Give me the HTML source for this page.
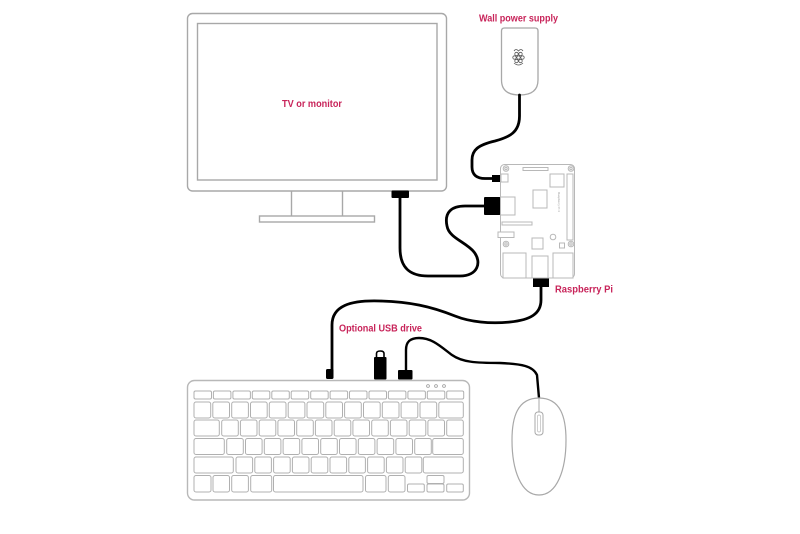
<!DOCTYPE html>
<html><head><meta charset="utf-8"><style>
html,body{margin:0;padding:0;background:#fff;}
svg{display:block;}
text{font-family:"Liberation Sans",sans-serif;font-weight:bold;fill:#c8245a;}
</style></head><body>
<svg width="800" height="534" viewBox="0 0 800 534" xmlns="http://www.w3.org/2000/svg">
<rect width="800" height="534" fill="#fff"/>

<!-- Monitor -->
<g fill="none" stroke="#a8a8a8" stroke-width="1.4">
<rect x="187.5" y="13.5" width="259" height="177.5" rx="5"/>
<rect x="197.5" y="23.5" width="239.5" height="156.5"/>
<path d="M291.5,191 V216 M342.5,191 V216"/>
<rect x="259.5" y="216" width="115" height="6"/>
</g>
<text x="312" y="107" font-size="10" text-anchor="middle" textLength="60" lengthAdjust="spacingAndGlyphs">TV or monitor</text>

<!-- Power supply -->
<path d="M501.5,31 Q501.5,28 504.5,28 H535 Q538,28 538,31 V80 Q538,95 519.7,95 Q501.5,95 501.5,80 Z" fill="#fff" stroke="#a8a8a8" stroke-width="1.3"/>
<g fill="none" stroke="#555" stroke-width="0.8">
<circle cx="516.5" cy="54" r="1.7"/><circle cx="520.5" cy="54" r="1.7"/>
<circle cx="514.5" cy="57.5" r="1.7"/><circle cx="518.5" cy="57.5" r="1.7"/><circle cx="522.5" cy="57.5" r="1.7"/>
<circle cx="516.5" cy="61" r="1.7"/><circle cx="520.5" cy="61" r="1.7"/>
<path d="M514,51 Q516,48 518.5,51 Q521,48 523,51"/>
<path d="M514,63 Q518.5,67 523,63"/>
</g>
<text x="518.5" y="21.5" font-size="10" text-anchor="middle" textLength="79" lengthAdjust="spacingAndGlyphs">Wall power supply</text>

<!-- Cables -->
<g fill="none" stroke="#000" stroke-width="2.8" stroke-linecap="round" stroke-linejoin="round">
<path d="M519.5,95 V116 C519.5,132 510,137 495,141 C478,145 472,150 472,160 V167 C472,175 477,178.5 485,178.5 H494"/>
<path d="M400,198 V248 C400,268 410,276 428,276 H460 C478,276 482,262 474,252 C466,242 449,238 447,226 C444,212 452,206 465,206 H486"/>
<path d="M541,287 V300 C541,314 530,320 510,322 C490,324 470,322 455,316 C430,306 410,302 380,301 C350,300 332,306 332,325 V370"/>
<path d="M406,370 V350 C406,341 411,338 419,338 C432,338 440,346 452,355 C462,362 475,363 500,363 C522,364 533,366 537,375 L539,398" stroke-width="2.4"/>
</g>
<!-- connectors -->
<g fill="#000">
<rect x="391.5" y="190.5" width="17.5" height="7.5" rx="1"/>
<rect x="492" y="175" width="9" height="7"/>
<rect x="484" y="197" width="16.5" height="18" rx="1"/>
<rect x="533" y="278" width="16" height="9"/>
<rect x="326" y="369" width="7.5" height="10" rx="1.5"/>
<rect x="398" y="370" width="14.5" height="9.5" rx="1"/>
<rect x="374" y="357" width="12.5" height="22.5" rx="1"/>
</g>
<path d="M376.5,358 V353.5 Q376.5,351 380.2,351 Q384,351 384,353.5 V358" fill="none" stroke="#000" stroke-width="1.6"/>

<!-- Raspberry Pi board -->
<g fill="#fff" stroke="#b8b8b8" stroke-width="1">
<rect x="500.5" y="164.5" width="74" height="113.5" rx="4"/>
<circle cx="506" cy="168.5" r="2.8"/><circle cx="571" cy="168.5" r="2.8"/>
<circle cx="506" cy="244" r="2.8"/><circle cx="571" cy="244" r="2.8"/>
<circle cx="506" cy="168.5" r="1.2"/><circle cx="571" cy="168.5" r="1.2"/>
<circle cx="506" cy="244" r="1.2"/><circle cx="571" cy="244" r="1.2"/>
<rect x="523" y="167.5" width="25" height="3"/>
<rect x="567" y="174" width="6" height="66"/>
<rect x="550" y="174" width="14" height="13"/>
<rect x="533" y="190" width="14" height="18"/>
<rect x="501" y="174" width="7" height="8"/>
<rect x="500.5" y="197" width="14.5" height="18"/>
<rect x="502" y="222" width="30" height="3"/>
<rect x="498" y="232" width="16" height="5.5"/>
<rect x="532" y="238" width="11" height="11"/>
<circle cx="553" cy="237" r="2.8"/>
<rect x="559.5" y="243" width="5" height="5"/>
<rect x="503" y="253" width="23" height="25"/>
<rect x="532" y="256" width="16" height="22"/>
<rect x="553" y="253" width="20" height="25"/>
</g>
<text x="0" y="0" font-size="3" fill="#999" transform="translate(558,192) rotate(90)" style="fill:#999;font-weight:normal">Raspberry Pi 4</text>
<text x="555" y="292.5" font-size="10" textLength="58" lengthAdjust="spacingAndGlyphs">Raspberry Pi</text>
<text x="339" y="331.5" font-size="10" textLength="83" lengthAdjust="spacingAndGlyphs">Optional USB drive</text>

<!-- Keyboard -->
<rect x="187.5" y="380.5" width="282" height="119.5" rx="7" fill="#fff" stroke="#b8b8b8" stroke-width="1.4"/>
<g fill="none" stroke="#999" stroke-width="0.8">
<circle cx="428" cy="386" r="1.4"/><circle cx="436" cy="386" r="1.4"/><circle cx="444" cy="386" r="1.4"/>
</g>
<g fill="none" stroke="#b0b0b0" stroke-width="1">
<!-- row1 -->
<rect x="194" y="391" width="17.5" height="8" rx="1.5"/><rect x="213.4" y="391" width="17.5" height="8" rx="1.5"/><rect x="232.9" y="391" width="17.5" height="8" rx="1.5"/><rect x="252.3" y="391" width="17.5" height="8" rx="1.5"/><rect x="271.8" y="391" width="17.5" height="8" rx="1.5"/><rect x="291.2" y="391" width="17.5" height="8" rx="1.5"/><rect x="310.7" y="391" width="17.5" height="8" rx="1.5"/><rect x="330.1" y="391" width="17.5" height="8" rx="1.5"/><rect x="349.5" y="391" width="17.5" height="8" rx="1.5"/><rect x="369" y="391" width="17.5" height="8" rx="1.5"/><rect x="388.4" y="391" width="17.5" height="8" rx="1.5"/><rect x="407.9" y="391" width="17.5" height="8" rx="1.5"/><rect x="427.3" y="391" width="17.5" height="8" rx="1.5"/><rect x="446.7" y="391" width="17" height="8" rx="1.5"/>
<!-- row2 -->
<rect x="194" y="402" width="16.7" height="16" rx="2"/><rect x="212.8" y="402" width="16.7" height="16" rx="2"/><rect x="231.7" y="402" width="16.7" height="16" rx="2"/><rect x="250.5" y="402" width="16.7" height="16" rx="2"/><rect x="269.3" y="402" width="16.7" height="16" rx="2"/><rect x="288.2" y="402" width="16.7" height="16" rx="2"/><rect x="307" y="402" width="16.7" height="16" rx="2"/><rect x="325.8" y="402" width="16.7" height="16" rx="2"/><rect x="344.6" y="402" width="16.7" height="16" rx="2"/><rect x="363.5" y="402" width="16.7" height="16" rx="2"/><rect x="382.3" y="402" width="16.7" height="16" rx="2"/><rect x="401.1" y="402" width="16.7" height="16" rx="2"/><rect x="420" y="402" width="16.7" height="16" rx="2"/><rect x="438.8" y="402" width="24.5" height="16" rx="2"/>
<!-- row3 -->
<rect x="194" y="420" width="25.3" height="16" rx="2"/><rect x="221.7" y="420" width="16.6" height="16" rx="2"/><rect x="240.4" y="420" width="16.6" height="16" rx="2"/><rect x="259.2" y="420" width="16.6" height="16" rx="2"/><rect x="277.9" y="420" width="16.6" height="16" rx="2"/><rect x="296.7" y="420" width="16.6" height="16" rx="2"/><rect x="315.4" y="420" width="16.6" height="16" rx="2"/><rect x="334.2" y="420" width="16.6" height="16" rx="2"/><rect x="352.9" y="420" width="16.6" height="16" rx="2"/><rect x="371.7" y="420" width="16.6" height="16" rx="2"/><rect x="390.4" y="420" width="16.6" height="16" rx="2"/><rect x="409.2" y="420" width="16.6" height="16" rx="2"/><rect x="427.9" y="420" width="16.6" height="16" rx="2"/><rect x="446.7" y="420" width="16.6" height="16" rx="2"/>
<!-- row4 -->
<rect x="194" y="438.5" width="30.3" height="16" rx="2"/><rect x="226.7" y="438.5" width="16.6" height="16" rx="2"/><rect x="245.5" y="438.5" width="16.6" height="16" rx="2"/><rect x="264.3" y="438.5" width="16.6" height="16" rx="2"/><rect x="283.1" y="438.5" width="16.6" height="16" rx="2"/><rect x="301.9" y="438.5" width="16.6" height="16" rx="2"/><rect x="320.7" y="438.5" width="16.6" height="16" rx="2"/><rect x="339.5" y="438.5" width="16.6" height="16" rx="2"/><rect x="358.3" y="438.5" width="16.6" height="16" rx="2"/><rect x="377.1" y="438.5" width="16.6" height="16" rx="2"/><rect x="395.9" y="438.5" width="16.6" height="16" rx="2"/><rect x="414.7" y="438.5" width="16.6" height="16" rx="2"/><rect x="432.7" y="438.5" width="30.6" height="16" rx="2"/>
<!-- row5 -->
<rect x="194" y="457" width="39.3" height="16" rx="2"/><rect x="236" y="457" width="16.6" height="16" rx="2"/><rect x="254.8" y="457" width="16.6" height="16" rx="2"/><rect x="273.6" y="457" width="16.6" height="16" rx="2"/><rect x="292.4" y="457" width="16.6" height="16" rx="2"/><rect x="311.2" y="457" width="16.6" height="16" rx="2"/><rect x="330" y="457" width="16.6" height="16" rx="2"/><rect x="348.8" y="457" width="16.6" height="16" rx="2"/><rect x="367.6" y="457" width="16.6" height="16" rx="2"/><rect x="386.4" y="457" width="16.6" height="16" rx="2"/><rect x="405.2" y="457" width="16.6" height="16" rx="2"/><rect x="423.3" y="457" width="40" height="16" rx="2"/>
<!-- row6 -->
<rect x="194" y="475.5" width="17" height="16.5" rx="2"/><rect x="213" y="475.5" width="16.5" height="16.5" rx="2"/><rect x="231.7" y="475.5" width="16.7" height="16.5" rx="2"/><rect x="250.7" y="475.5" width="21" height="16.5" rx="2"/><rect x="273.5" y="475.5" width="89.5" height="16.5" rx="2"/><rect x="365.5" y="475.5" width="20.5" height="16.5" rx="2"/><rect x="388.3" y="475.5" width="16.7" height="16.5" rx="2"/>
<rect x="427" y="475.5" width="17" height="8" rx="1.5"/><rect x="407.5" y="484" width="16.8" height="8" rx="1.5"/><rect x="427" y="484" width="17" height="8" rx="1.5"/><rect x="446.7" y="484" width="16.6" height="8" rx="1.5"/>
</g>

<!-- Mouse -->
<path d="M539,398 C517,398 512,418 512,440 C512,470 521,495 539,495 C557,495 566,470 566,440 C566,418 561,398 539,398 Z" fill="#fff" stroke="#a8a8a8" stroke-width="1.2"/>
<path d="M539,398 V412" stroke="#a8a8a8" stroke-width="1"/>
<rect x="535" y="412" width="8" height="23" rx="3" fill="none" stroke="#a8a8a8" stroke-width="1"/>
<rect x="537.5" y="415" width="3" height="17" rx="1.5" fill="none" stroke="#bbb" stroke-width="0.7"/>
</svg>
</body></html>
